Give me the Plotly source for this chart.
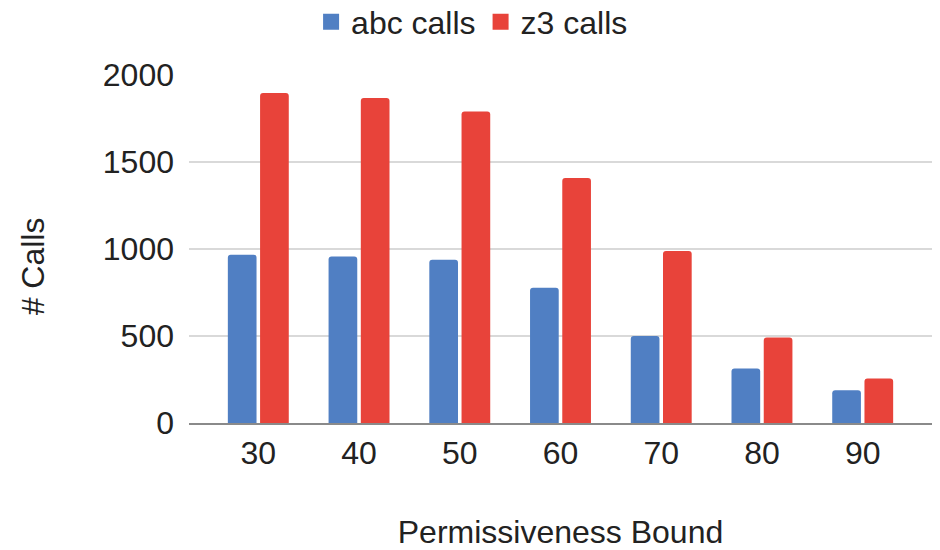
import plotly.graph_objects as go

bounds = ["30", "40", "50", "60", "70", "80", "90"]
abc_calls = [967, 957, 938, 778, 500, 313, 188]
z3_calls = [1896, 1868, 1790, 1408, 989, 492, 256]
y_ticks = [0, 500, 1000, 1500, 2000]

BLUE = "#507fc3"
RED = "#e8433a"
FONT = "Liberation Sans, Arial, sans-serif"
TEXT = "#222222"
SIZE = 32

fig = go.Figure()
fig.add_trace(go.Bar(x=bounds, y=abc_calls, name="abc calls",
                     marker=dict(color=BLUE, line=dict(width=0)), showlegend=False))
fig.add_trace(go.Bar(x=bounds, y=z3_calls, name="z3 calls",
                     marker=dict(color=RED, line=dict(width=0)), showlegend=False))

# legend entries with larger square swatches
for name, color in [("abc calls", BLUE), ("z3 calls", RED)]:
    fig.add_trace(go.Scatter(x=[None], y=[None], mode="markers", name=name,
                             marker=dict(symbol="square", size=20, color=color)))

fig.update_layout(
    width=940, height=550,
    margin=dict(l=189, r=8, t=75, b=127, autoexpand=False),
    paper_bgcolor="white", plot_bgcolor="white",
    font=dict(family=FONT, size=SIZE, color=TEXT),
    barmode="group", bargap=0.36, bargroupgap=0.11, barcornerradius=3,
    legend=dict(orientation="h", x=0.381, xanchor="center",
                y=0.96, yanchor="middle", yref="container",
                font=dict(size=SIZE), itemwidth=30,
                bgcolor="rgba(0,0,0,0)"),
    showlegend=True,
)

fig.update_xaxes(
    type="category", range=[-0.688, 6.688],
    showline=True, linecolor="#8a8a8a", linewidth=2,
    showgrid=False, ticks="", ticklabelstandoff=1,
    tickfont=dict(size=SIZE, color=TEXT),
    title=dict(text="Permissiveness Bound", standoff=54, font=dict(size=SIZE, color=TEXT)),
)
fig.update_yaxes(
    range=[0, 2000], tickvals=y_ticks,
    showgrid=True, gridcolor="#d9d9d9", gridwidth=1.5,
    zeroline=False, showline=False, ticks="", ticklabelstandoff=14,
    tickfont=dict(size=SIZE, color=TEXT),
)

fig.add_annotation(text="# Calls", xref="paper", yref="paper",
                   x=-0.21, y=0.45, textangle=-90, showarrow=False,
                   xanchor="center", yanchor="middle",
                   font=dict(size=SIZE, color=TEXT))

fig.write_html("out.html")
